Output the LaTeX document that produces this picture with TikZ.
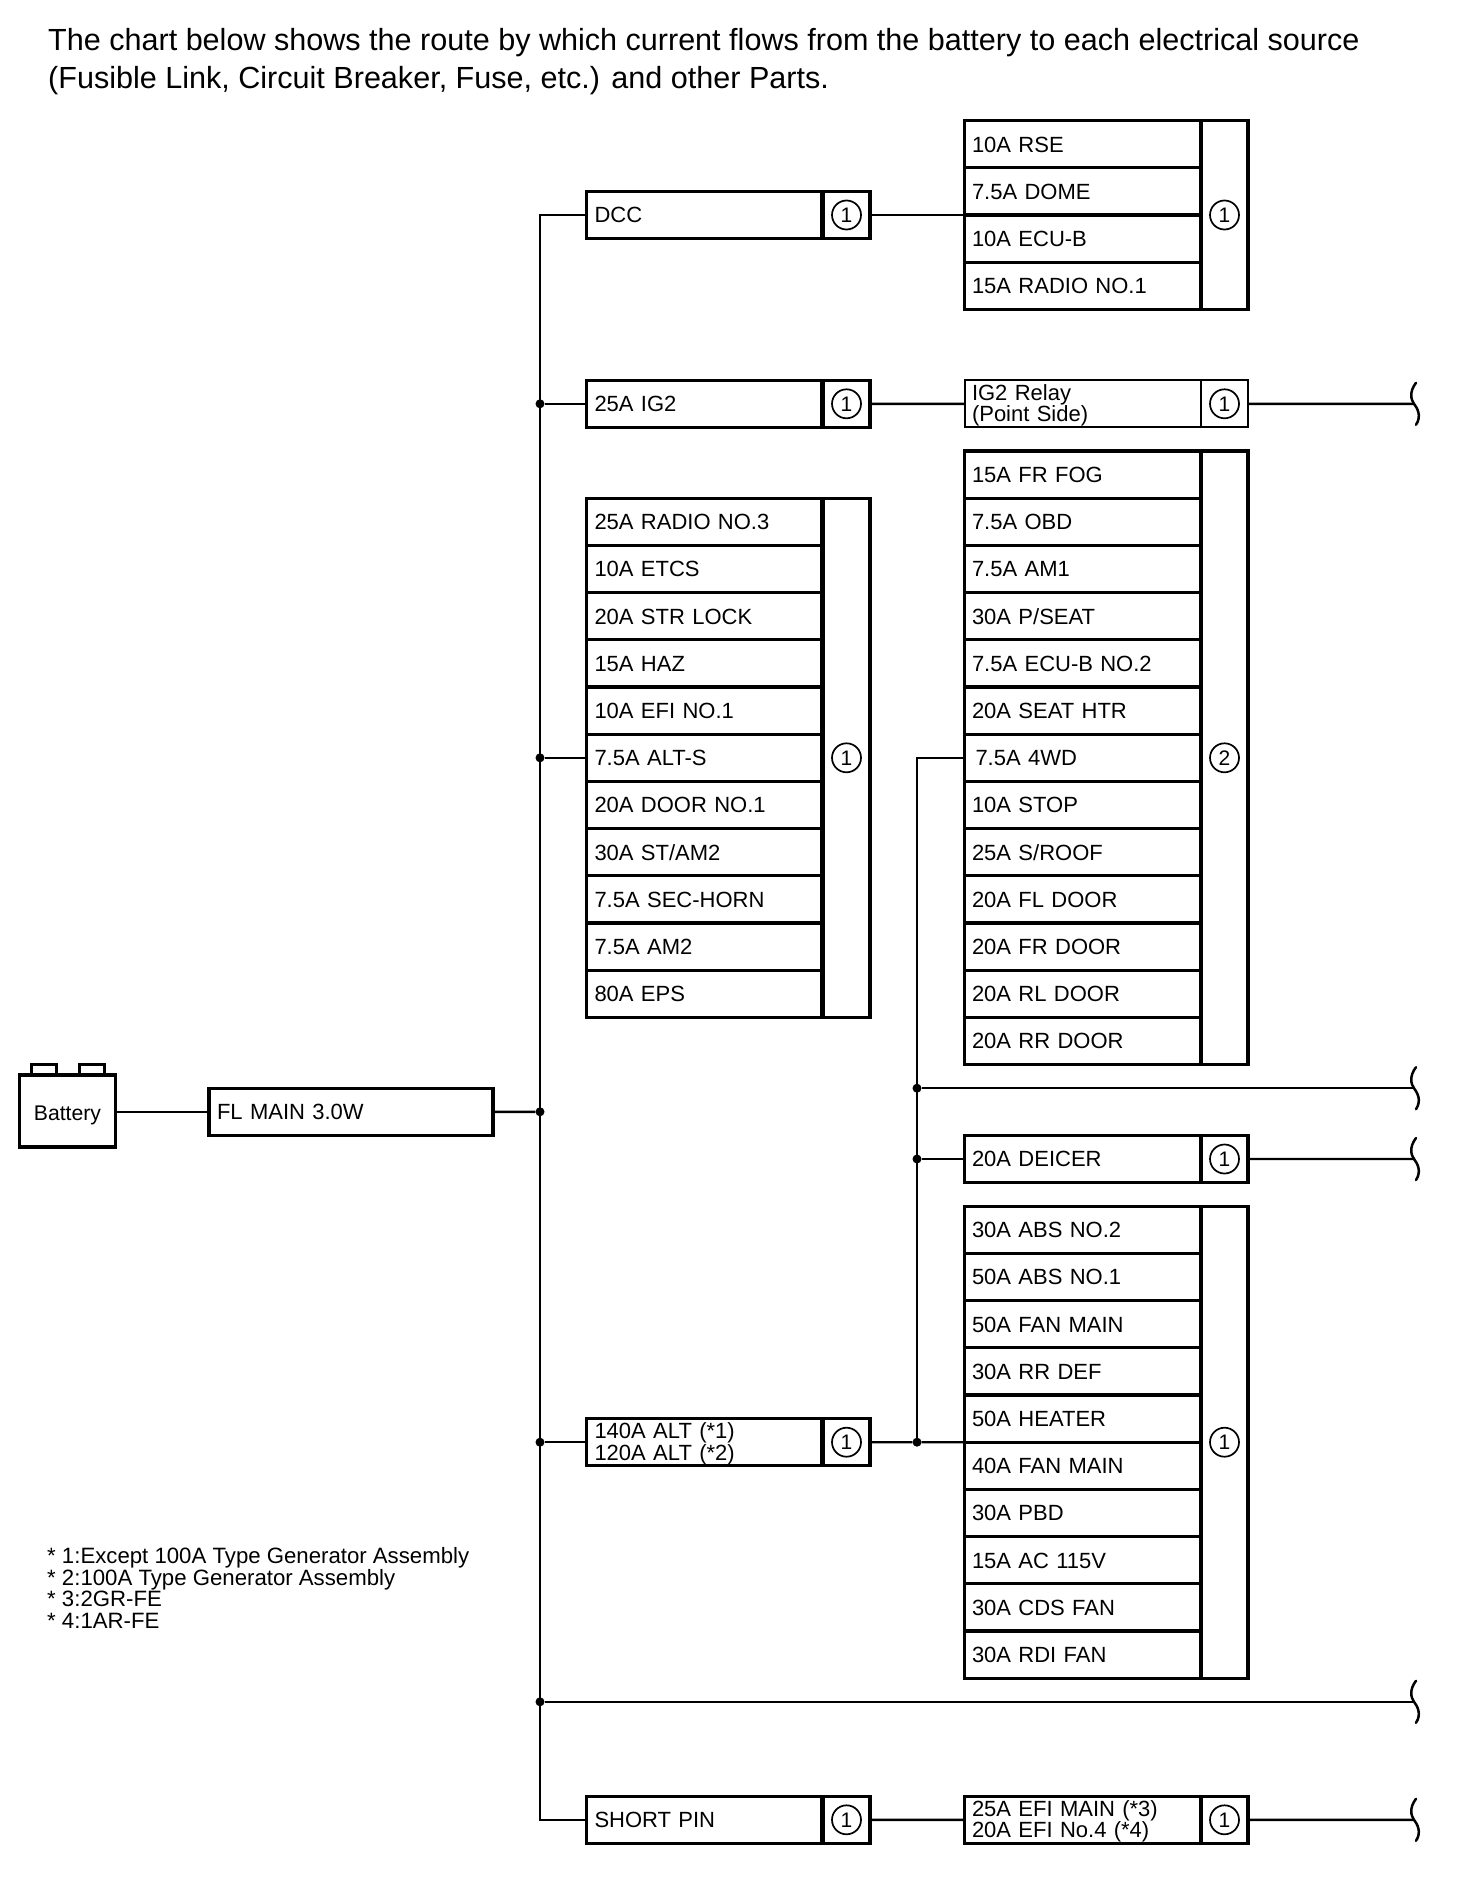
\documentclass[tikz,border=0pt]{standalone}
\usepackage{fontspec}
\setmainfont{Liberation Sans}
\usetikzlibrary{calc}
\tikzset{
  x=1pt,y=-1pt,
  cellbox/.style={draw=black,line width=3.3pt,fill=white,anchor=west,outer sep=0pt,inner ysep=0pt,inner xsep=7.5pt,
    minimum height=47.2pt,text width=221pt,align=left,text height=15.8pt,text depth=0pt,
    font=\fontsize{22}{20}\selectfont},
  leftcell/.style={inner xsep=8pt,text width=219pt},
  twobox/.style={text height=15.8pt,text depth=22.5pt},
  thinbox/.style={line width=2pt},
  sidecell/.style={draw=black,line width=3.3pt,fill=white,outer sep=0pt,inner sep=0pt,minimum width=47pt,anchor=north west},
  numcirc/.style={draw=black,circle,line width=1.7pt,minimum size=29pt,inner sep=0pt,fill=white,
    font=\fontsize{21}{21}\selectfont},
  wire/.style={line width=2.4pt,draw=black},
  thinwire/.style={line width=1.8pt,draw=black},
  jdot/.style={circle,fill=black,inner sep=0pt,minimum size=9pt},
  breakline/.style={line width=2.5pt,draw=black,line cap=round},
  txt/.style={inner sep=0pt,anchor=north west,align=left},
}
\newcommand{\fuse}[5][]{\node[cellbox,#1] (#2) at (#3,{144.2+47.2*(#4)}) {#5};}
\newcommand{\lfuse}[5][]{\node[cellbox,leftcell,#1] (#2) at (#3,{144.2+47.2*(#4)}) {#5};}
\newcommand{\sidebox}[6][]{%
  \pgfmathsetmacro{\hh}{47.2*(#5-#4+1)}%
  \pgfmathsetmacro{\yy}{144.2+47.2*(#4)-23.6}%
  \node[sidecell,#1,minimum height=\hh pt] (#2) at (#3,\yy) {};
  \node[numcirc] (#2c) at (#2.center) {#6};}
\newcommand{\breakmark}[1]{%
  \draw[breakline] ($(#1)+(2,-21)$) .. controls ($(#1)+(-5,-12)$) and ($(#1)+(-3,-4)$) .. (#1)
    .. controls ($(#1)+(3,4)$) and ($(#1)+(8,12)$) .. ($(#1)+(2,21)$);}
\begin{document}
\begin{tikzpicture}
\useasboundingbox[fill=white] (0,0) rectangle (1472,1884);

\node[txt,font=\fontsize{30.56}{37.2}\selectfont] (title) at (48,28.5)
  {The chart below shows the route by which current flows from the battery to each electrical source\\
   (Fusible Link, Circuit Breaker, Fuse, etc.) and other Parts.};

\node[txt,font=\fontsize{22.2}{21.7}\selectfont] (notes) at (47,1547)
  {* 1:Except 100A Type Generator Assembly\\* 2:100A Type Generator Assembly\\* 3:2GR-FE\\* 4:1AR-FE};

% battery
\node[draw=black,line width=3pt,fill=white,minimum height=11pt,inner sep=0pt,outer sep=0pt,anchor=south west,minimum width=25pt] (termA) at (31.5,1075) {};
\node[draw=black,line width=3pt,fill=white,minimum height=11pt,inner sep=0pt,outer sep=0pt,anchor=south west,minimum width=25pt] (termB) at (79.5,1075) {};
\node[draw=black,line width=3.3pt,fill=white,minimum width=96pt,minimum height=72pt,inner sep=0pt,outer sep=0pt,
  text height=19.4pt,text depth=0pt,font=\fontsize{21.2}{21}\selectfont] (batt) at (67.5,1111) {Battery};
\node[cellbox,minimum width=283pt,text width=268pt,inner xsep=8pt] (flmain) at (209,1112) {FL MAIN 3.0W};

% left column single rows
\lfuse{dcc}{586.5}{1.5}{DCC}
\sidebox{dccs}{823}{1.5}{1.5}{1}
\lfuse{igtwo}{586.5}{5.5}{25A IG2}
\sidebox{igtwos}{823}{5.5}{5.5}{1}
\lfuse{radiothree}{586.5}{8}{25A RADIO NO.3}
\lfuse{etcs}{586.5}{9}{10A ETCS}
\lfuse{strlock}{586.5}{10}{20A STR LOCK}
\lfuse{haz}{586.5}{11}{15A HAZ}
\lfuse{efione}{586.5}{12}{10A EFI NO.1}
\lfuse{alts}{586.5}{13}{7.5A ALT-S}
\lfuse{doorone}{586.5}{14}{20A DOOR NO.1}
\lfuse{stam}{586.5}{15}{30A ST/AM2}
\lfuse{sechorn}{586.5}{16}{7.5A SEC-HORN}
\lfuse{amtwo}{586.5}{17}{7.5A AM2}
\lfuse{eps}{586.5}{18}{80A EPS}
\sidebox{lefts}{823}{8}{18}{1}
\lfuse[twobox]{alt}{586.5}{27.5}{140A ALT (*1)\\120A ALT (*2)}
\sidebox{alts2}{823}{27.5}{27.5}{1}
\lfuse{shortpin}{586.5}{35.5}{SHORT PIN}
\sidebox{shortpins}{823}{35.5}{35.5}{1}

% right column
\fuse{rse}{964.5}{0}{10A RSE}
\fuse{dome}{964.5}{1}{7.5A DOME}
\fuse{ecub}{964.5}{2}{10A ECU-B}
\fuse{radioone}{964.5}{3}{15A RADIO NO.1}
\sidebox{topr}{1201}{0}{3}{1}
\fuse[twobox,thinbox]{relay}{964.5}{5.5}{IG2 Relay\\(Point Side)}
\sidebox[thinbox]{relays}{1201}{5.5}{5.5}{1}
\fuse{frfog}{964.5}{7}{15A FR FOG}
\fuse{obd}{964.5}{8}{7.5A OBD}
\fuse{amone}{964.5}{9}{7.5A AM1}
\fuse{pseat}{964.5}{10}{30A P/SEAT}
\fuse{ecubtwo}{964.5}{11}{7.5A ECU-B NO.2}
\fuse{seathtr}{964.5}{12}{20A SEAT HTR}
\fuse{fwd}{964.5}{13}{\hspace*{3.5pt}7.5A 4WD}
\fuse{stop}{964.5}{14}{10A STOP}
\fuse{sroof}{964.5}{15}{25A S/ROOF}
\fuse{fldoor}{964.5}{16}{20A FL DOOR}
\fuse{frdoor}{964.5}{17}{20A FR DOOR}
\fuse{rldoor}{964.5}{18}{20A RL DOOR}
\fuse{rrdoor}{964.5}{19}{20A RR DOOR}
\sidebox{midr}{1201}{7}{19}{2}
\fuse{deicer}{964.5}{21.5}{20A DEICER}
\sidebox{deicers}{1201}{21.5}{21.5}{1}
\fuse{abstwo}{964.5}{23}{30A ABS NO.2}
\fuse{absone}{964.5}{24}{50A ABS NO.1}
\fuse{fanmaina}{964.5}{25}{50A FAN MAIN}
\fuse{rrdef}{964.5}{26}{30A RR DEF}
\fuse{heater}{964.5}{27}{50A HEATER}
\fuse{fanmainb}{964.5}{28}{40A FAN MAIN}
\fuse{pbd}{964.5}{29}{30A PBD}
\fuse{acv}{964.5}{30}{15A AC 115V}
\fuse{cds}{964.5}{31}{30A CDS FAN}
\fuse{rdi}{964.5}{32}{30A RDI FAN}
\sidebox{lowr}{1201}{23}{32}{1}
\fuse[twobox]{efi}{964.5}{35.5}{25A EFI MAIN (*3)\\20A EFI No.4 (*4)}
\sidebox{efis}{1201}{35.5}{35.5}{1}

% junctions on the main bus
\coordinate (busdcc) at (540,{144.2+47.2*1.5});
\coordinate (busshort) at (540,{144.2+47.2*35.5});
\node[jdot] (jig) at (540,{144.2+47.2*5.5}) {};
\node[jdot] (jalts) at (540,{144.2+47.2*13}) {};
\node[jdot] (jfl) at (540,{144.2+47.2*20.5}) {};
\node[jdot] (jalt) at (540,{144.2+47.2*27.5}) {};
\node[jdot] (jlong) at (540,{144.2+47.2*33}) {};
% junctions on the second bus
\coordinate (busfwd) at (917,{144.2+47.2*13});
\node[jdot] (jmid) at (917,{144.2+47.2*20}) {};
\node[jdot] (jdei) at (917,{144.2+47.2*21.5}) {};
\node[jdot] (jabs) at (917,{144.2+47.2*27.5}) {};
% free ends
\coordinate (brkrelay) at (1414,{144.2+47.2*5.5});
\coordinate (brkmid) at (1414,{144.2+47.2*20});
\coordinate (brkdei) at (1414,{144.2+47.2*21.5});
\coordinate (brklong) at (1414,{144.2+47.2*33});
\coordinate (brkefi) at (1414,{144.2+47.2*35.5});

% connectors
\draw[wire] (flmain.west -| batt.east) -- (flmain.west);
\draw[wire] (flmain) -- (jfl);
\draw[wire,line join=miter] (dcc.west) -- (busdcc) -- (busshort) -- (shortpin.west);
\draw[wire] (jig) -- (igtwo.west);
\draw[wire] (jalts) -- (alts.west);
\draw[wire] (jalt) -- (alt.west);
\draw[wire] (jlong) -- (brklong);
\draw[thinwire] (dccs.east) -- (ecub.north west);
\draw[wire] (igtwos.east) -- (relay.west);
\draw[wire] (relays.east) -- (brkrelay);
\draw[wire] (alts2.east) -- (jabs) -- (heater.south west);
\draw[wire] (fwd.west) -- (busfwd) -- (jabs);
\draw[wire] (jmid) -- (brkmid);
\draw[wire] (jdei) -- (deicer.west);
\draw[wire] (deicers.east) -- (brkdei);
\draw[wire] (shortpins.east) -- (efi.west);
\draw[wire] (efis.east) -- (brkefi);

\breakmark{brkrelay}
\breakmark{brkmid}
\breakmark{brkdei}
\breakmark{brklong}
\breakmark{brkefi}
\end{tikzpicture}
\end{document}
